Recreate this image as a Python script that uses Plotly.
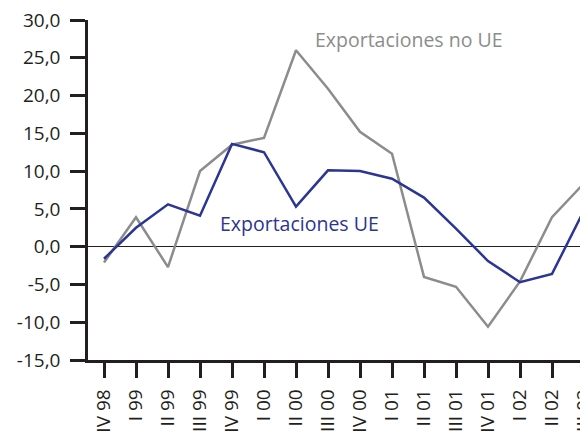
import plotly.graph_objects as go

trimestres = ['IV 98', 'I 99', 'II 99', 'III 99', 'IV 99', 'I 00', 'II 00', 'III 00',
              'IV 00', 'I 01', 'II 01', 'III 01', 'IV 01', 'I 02', 'II 02', 'III 02']
export_ue = [-1.6, 2.5, 5.6, 4.1, 13.6, 12.5, 5.3, 10.1, 10.0, 9.0, 6.5, 2.4, -1.9, -4.7, -3.6, 4.8]
export_no_ue = [-2.1, 3.9, -2.7, 10.0, 13.5, 14.4, 26.0, 20.9, 15.2, 12.3, -4.0, -5.3, -10.6, -4.6, 3.9, 8.4]

font = 'Open Sans, sans-serif'
ink = '#231f20'
azul = '#2b3593'
gris = '#8c8c8c'

fig = go.Figure()
fig.add_trace(go.Scatter(x=trimestres, y=export_no_ue, mode='lines',
                         line=dict(color=gris, width=2.5), showlegend=False))
fig.add_trace(go.Scatter(x=trimestres, y=export_ue, mode='lines',
                         line=dict(color=azul, width=2.5), showlegend=False))

fig.add_annotation(x=9.53, y=27.4, text='Exportaciones no UE', showarrow=False,
                   xanchor='center', yanchor='middle', xref='x', yref='y',
                   font=dict(family=font, size=19.5, color=gris))
fig.add_annotation(x=6.12, y=3.1, text='Exportaciones UE', showarrow=False,
                   xanchor='center', yanchor='middle', xref='x', yref='y',
                   font=dict(family=font, size=19.5, color=azul))

# the page has an 8px body margin, so the margins are set 8px smaller
fig.update_layout(
    width=588, height=439,
    margin=dict(l=80, r=8, t=12, b=87, autoexpand=False),
    paper_bgcolor='white', plot_bgcolor='white',
    font=dict(family=font, size=19, color=ink),
    xaxis=dict(
        type='category',
        range=[-0.5, 15.125],
        showgrid=False, zeroline=False,
        showline=True, linecolor=ink, linewidth=2.5,
        ticks='outside', ticklen=15, tickwidth=2.5, tickcolor=ink,
        tickangle=-90, ticklabelstandoff=4, ticklabeloverflow='allow',
        tickfont=dict(family=font, size=19, color=ink),
    ),
    yaxis=dict(
        range=[-15, 30],
        tickvals=[-15, -10, -5, 0, 5, 10, 15, 20, 25, 30],
        ticktext=['-15,0', '-10,0', '-5,0', '0,0', '5,0', '10,0', '15,0', '20,0', '25,0', '30,0'],
        showgrid=False,
        zeroline=True, zerolinecolor=ink, zerolinewidth=1,
        showline=True, linecolor=ink, linewidth=2.5,
        ticks='outside', ticklen=15, tickwidth=2.5, tickcolor=ink,
        ticklabelstandoff=6, ticklabeloverflow='allow',
        tickfont=dict(family=font, size=19, color=ink),
    ),
)

fig.write_html('out.html')
